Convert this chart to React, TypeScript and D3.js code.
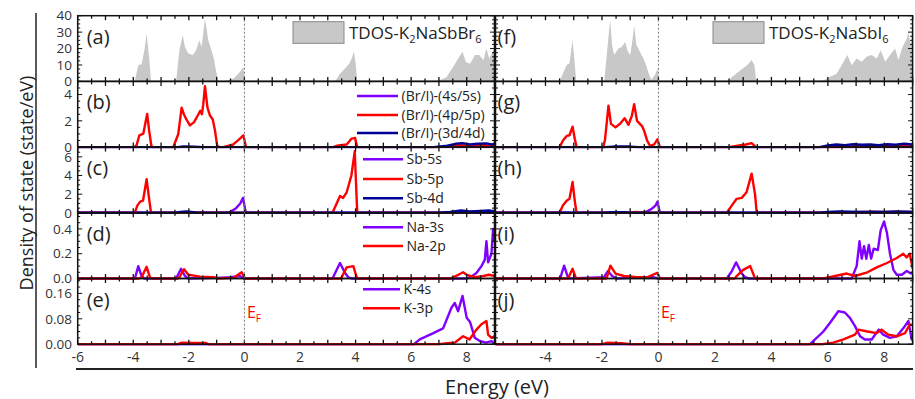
import * as d3 from 'd3';
import React, { useEffect, useRef } from 'react';

type Pt = [number, number];

// ---- data (energy in eV, DOS in state/eV) ----
const tdosBr: Pt[] = [[-6,0],[-3.95,0],[-3.82,9.8],[-3.7,10.4],[-3.6,19],[-3.52,29.2],[-3.42,12.9],[-3.36,0],
  [-2.46,0],[-2.34,19],[-2.22,28.2],[-2.14,21],[-2.02,17],[-1.86,16],[-1.74,19],[-1.62,25],[-1.54,21],[-1.42,38.4],[-1.3,25],[-1.22,20.6],[-1.1,14],[-1.0,4.7],[-0.93,0],
  [-0.76,0],[-0.4,1.6],[-0.16,5.7],[-0.04,8.8],[0.02,0],
  [3.26,0],[3.44,4.7],[3.62,7.8],[3.77,10.8],[3.86,14],[3.94,18],[4.01,10],[4.06,0],
  [6.91,0],[7.27,2.6],[7.51,8.8],[7.69,14],[7.85,18],[7.97,11.8],[8.12,10.8],[8.3,16],[8.45,16],[8.6,12.9],[8.71,20],[8.81,14],[8.9,17],[9,20]];

const tdosI: Pt[] = [[-6,0],[-3.5,0],[-3.38,5],[-3.25,10],[-3.15,11],[-3.04,25],[-2.96,10],[-2.91,0],
  [-1.92,0],[-1.82,18],[-1.71,37.4],[-1.64,22],[-1.57,16],[-1.42,20],[-1.3,21],[-1.18,24],[-1.08,18],[-1.0,16],[-0.92,25],[-0.86,34],[-0.78,22],[-0.71,20],[-0.6,16],[-0.53,14],[-0.42,9],[-0.35,5],[-0.25,1],[-0.12,4],[-0.03,8],[0.02,0],
  [2.45,0],[2.6,2.5],[2.77,5],[3.0,8],[3.15,10],[3.3,13],[3.4,10],[3.46,0],
  [5.3,0],[5.84,0.5],[6.0,2],[6.31,4.7],[6.55,11.8],[6.69,16],[6.84,9.8],[7.02,14],[7.2,12],[7.37,15],[7.55,16],[7.73,14],[7.87,19],[8.03,12],[8.2,16],[8.38,20],[8.5,13],[8.62,20],[8.79,26],[8.85,30],[8.94,22],[9,36]];

const brS: Pt[] = [[-6,0],[9,0]];
const brP: Pt[] = [[-6,0],[-3.95,0],[-3.88,0.15],[-3.78,0.9],[-3.64,1.02],[-3.5,2.52],[-3.43,1.27],[-3.35,0.1],[-3.3,0],
  [-2.56,0],[-2.38,1.0],[-2.26,3.0],[-2.18,2.5],[-2.1,2.15],[-1.96,1.65],[-1.81,1.9],[-1.65,2.52],[-1.59,2.77],[-1.53,2.5],[-1.48,3.27],[-1.42,4.64],[-1.33,3.0],[-1.24,2.4],[-1.14,2.1],[-1.06,1.27],[-0.98,0.1],[-0.9,0],
  [-0.76,0],[-0.4,0.2],[-0.16,0.65],[-0.04,0.9],[0.06,0],
  [3.2,0],[3.32,0.1],[3.68,0.2],[3.86,0.65],[3.98,0.7],[4.06,0],
  [7.0,0],[7.5,0.08],[7.8,0.15],[8.0,0.1],[8.3,0.12],[8.6,0.15],[8.8,0.1],[9,0.12]];
const brD: Pt[] = [[-6,0],[-2.4,0],[-2.2,0.05],[-1.8,0.03],[-1.5,0],[6.8,0],[7.3,0.1],[7.6,0.25],[7.85,0.3],[8.1,0.2],[8.4,0.25],[8.7,0.28],[8.9,0.2],[9,0.25]];

const sbS: Pt[] = [[-6,0],[-4,0],[-3.8,0.05],[-3.6,0],[-0.7,0],[-0.5,0.1],[-0.3,0.5],[-0.15,1.0],[-0.05,1.6],[0.05,0],[9,0]];
const sbP: Pt[] = [[-6,0],[-3.95,0],[-3.85,0.8],[-3.75,1.2],[-3.65,1.3],[-3.52,3.6],[-3.43,1.5],[-3.36,0],[-2.3,0],[-2.1,0.05],[-1.6,0.05],[-1.4,0],
  [3.17,0],[3.44,1.8],[3.55,1.6],[3.68,2.2],[3.85,4.0],[3.97,6.6],[4.06,0],[7.3,0],[7.7,0.08],[8.2,0.1],[8.6,0.12],[9,0.1]];
const sbD: Pt[] = [[-6,0],[-2.5,0],[-2.3,0.1],[-2.1,0.15],[-1.9,0.1],[-1.7,0],[7.0,0],[7.4,0.1],[7.8,0.25],[8.1,0.15],[8.5,0.2],[8.8,0.25],[9,0.15]];

const naS: Pt[] = [[-6,0],[-3.94,0],[-3.82,0.1],[-3.7,0.02],[-3.6,0],[-2.46,0],[-2.28,0.078],[-2.14,0.02],[-2.02,0],[-1.0,0.005],[-0.5,0.01],[-0.16,0.02],[-0.02,0],
  [3.17,0],[3.44,0.125],[3.62,0.045],[3.74,0.01],[3.85,0],[8.0,0],[8.2,0.02],[8.35,0.045],[8.53,0.1],[8.65,0.15],[8.71,0.3],[8.77,0.13],[8.89,0.2],[8.95,0.4],[9,0.3]];
const naP: Pt[] = [[-6,0],[-3.8,0],[-3.7,0.01],[-3.52,0.094],[-3.4,0.01],[-3.3,0],[-2.4,0],[-2.34,0.01],[-2.17,0.075],[-2.02,0.03],[-1.6,0.015],[-1.1,0.01],[-0.95,0],[-0.4,0.005],[-0.1,0.05],[0.02,0],
  [3.45,0],[3.5,0.01],[3.68,0.09],[3.92,0.1],[4.04,0.01],[4.1,0],[7.4,0],[7.7,0.03],[7.87,0.05],[8.0,0.03],[8.3,0.01],[8.6,0.02],[8.8,0.03],[9,0.02]];

const kS: Pt[] = [[-6,0],[6.1,0],[6.31,0.015],[6.8,0.035],[7.15,0.05],[7.45,0.115],[7.57,0.13],[7.69,0.104],[7.85,0.152],[8.0,0.083],[8.12,0.07],[8.29,0.02],[8.47,0.01],[8.7,0.005],[8.89,0.01],[9,0]];
const kP: Pt[] = [[-6,0],[-2.4,0],[-2.25,0.005],[-1.8,0.004],[-1.4,0.004],[-1.3,0],[7.0,0],[7.3,0.003],[7.57,0.005],[7.87,0.025],[8.1,0.015],[8.35,0.046],[8.53,0.063],[8.71,0.073],[8.77,0.03],[8.89,0.02],[9,0.025]];

const iS: Pt[] = [[-6,0],[9,0]];
const iP: Pt[] = [[-6,0],[-3.5,0],[-3.38,0.5],[-3.25,0.85],[-3.15,0.9],[-3.04,1.55],[-2.96,0.6],[-2.9,0],[-1.95,0],[-1.89,0.6],[-1.77,3.15],[-1.68,1.77],[-1.52,1.5],[-1.35,1.8],[-1.2,2.2],[-1.06,1.7],[-0.94,2.4],[-0.86,3.27],[-0.76,2.0],[-0.58,1.6],[-0.5,1.2],[-0.4,0.5],[-0.3,0.1],[-0.15,0.2],[-0.03,0.6],[0.05,0],
  [2.5,0],[2.8,0.1],[3.1,0.2],[3.3,0.3],[3.45,0],[6.3,0],[6.8,0.05],[7.3,0.08],[7.8,0.1],[8.3,0.08],[8.8,0.1],[9,0.12]];
const iD: Pt[] = [[-6,0],[-1.9,0],[-1.6,0.04],[-1.0,0.04],[-0.7,0],[5.7,0],[6.0,0.12],[6.3,0.2],[6.6,0.15],[6.9,0.22],[7.2,0.18],[7.5,0.2],[7.8,0.15],[8.1,0.22],[8.4,0.18],[8.7,0.25],[9,0.2]];

const sbIS: Pt[] = [[-6,0],[-3.5,0],[-3.3,0.03],[-3.1,0],[-0.65,0],[-0.4,0.15],[-0.25,0.4],[-0.1,0.8],[-0.03,1.2],[0.05,0],[9,0]];
const sbIP: Pt[] = [[-6,0],[-3.5,0],[-3.38,0.8],[-3.25,1.3],[-3.15,1.5],[-3.04,3.3],[-2.96,1.2],[-2.9,0],[-1.0,0],[-0.8,0.1],[-0.6,0.05],[-0.5,0],
  [2.42,0],[2.6,0.8],[2.77,1.5],[2.95,1.6],[3.12,2.2],[3.3,4.2],[3.42,2.0],[3.48,0],[6.2,0],[6.6,0.05],[7.2,0.1],[7.8,0.08],[8.4,0.1],[9,0.08]];
const sbID: Pt[] = [[-6,0],[-1.9,0],[-1.7,0.06],[-1.2,0.06],[-1.0,0],[5.7,0],[6.0,0.08],[6.4,0.15],[6.8,0.12],[7.2,0.1],[7.6,0.12],[8.0,0.1],[8.4,0.14],[8.8,0.12],[9,0.1]];

const naIS: Pt[] = [[-6,0],[-3.48,0],[-3.34,0.104],[-3.22,0.02],[-3.15,0],[-1.93,0.01],[-1.79,0.06],[-1.64,0.02],[-1.47,0],[-0.94,0.005],[-0.2,0.01],[0,0],
  [2.42,0],[2.6,0.06],[2.75,0.13],[2.95,0.04],[3.07,0.01],[3.2,0],[6.84,0],[7.02,0.1],[7.12,0.3],[7.2,0.16],[7.28,0.26],[7.36,0.16],[7.45,0.27],[7.53,0.16],[7.62,0.24],[7.77,0.23],[7.87,0.39],[7.99,0.46],[8.09,0.37],[8.2,0.2],[8.32,0.07],[8.44,0.03],[8.62,0.03],[8.79,0.06],[8.94,0.04],[9,0.05]];
const naIP: Pt[] = [[-6,0],[-3.2,0],[-3.16,0.02],[-3.04,0.078],[-2.92,0],[-1.85,0],[-1.81,0.02],[-1.7,0.104],[-1.52,0.04],[-1.22,0.02],[-0.75,0.01],[-0.4,0.01],[-0.04,0.045],[0.06,0],
  [2.7,0],[2.77,0.02],[3.0,0.07],[3.25,0.1],[3.42,0],[5.84,0],[6.67,0.04],[6.96,0.02],[7.4,0.05],[7.73,0.09],[8.09,0.125],[8.44,0.165],[8.67,0.2],[8.79,0.17],[8.9,0.2],[9,0.08]];

const kIS: Pt[] = [[-6,0],[5.37,0],[5.84,0.04],[6.07,0.067],[6.37,0.104],[6.6,0.1],[6.78,0.083],[6.96,0.057],[7.14,0.025],[7.31,0.015],[7.55,0.015],[7.8,0.046],[7.96,0.03],[8.2,0.02],[8.44,0.025],[8.67,0.05],[8.85,0.073],[8.97,0.015],[9,0.02]];
const kIP: Pt[] = [[-6,0],[-2.0,0],[-1.8,0.005],[-1.3,0.003],[-1.0,0],[5.8,0],[6.19,0.005],[6.55,0.015],[6.96,0.03],[7.08,0.046],[7.4,0.04],[7.73,0.035],[7.9,0.046],[8.14,0.03],[8.44,0.025],[8.73,0.035],[8.9,0.062],[9,0.06]];

const panelLetters = [['(a)','(b)','(c)','(d)','(e)'], ['(f)','(g)','(h)','(i)','(j)']];
const xTickLabels = [[-6,-4,-2,0,2,4,6,8], [-4,-2,0,2,4,6,8]];
const yMax = [40, 5, 7.05, 0.53, 0.207];
const yMajor = [10, 2, 2, 0.2, 0.08];
const yFormat = ['d', 'd', 'd', '.1f', '.2f'];
const legendBr = ['(Br/I)-(4s/5s)', '(Br/I)-(4p/5p)', '(Br/I)-(3d/4d)'];
const legendSb = ['Sb-5s', 'Sb-5p', 'Sb-4d'];
const legendNa = ['Na-3s', 'Na-2p'];
const legendK = ['K-4s', 'K-3p'];

const PURPLE = '#7f00ff', RED = '#ff0000', NAVY = '#000099', GRAY = '#c8c8c8';
const FONT = "'Open Sans', sans-serif";

export default function App() {
  const ref = useRef<SVGSVGElement>(null);

  useEffect(() => {
    const svg = d3.select(ref.current);
    svg.selectAll('*').remove();

    const top = 15.7, rowH = 65.7;
    const cols = [
      { x0: 77.7, x1: 494.5, dom: [-6, 9], tdos: tdosBr, tdosName: 'NaSbBr',
        rows: [[brS, brP, brD], [sbS, sbP, sbD], [naS, naP], [kS, kP]] },
      { x0: 495.5, x1: 912.6, dom: [-5.77, 9], tdos: tdosI, tdosName: 'NaSbI',
        rows: [[iS, iP, iD], [sbIS, sbIP, sbID], [naIS, naIP], [kIS, kIP]] },
    ];
    const colors3 = [PURPLE, RED, NAVY];

    cols.forEach((col, ci) => {
      const x = d3.scaleLinear().domain(col.dom).range([col.x0, col.x1]);
      for (let r = 0; r < 5; r++) {
        const y0 = top + r * rowH, y1 = y0 + rowH;
        const y = d3.scaleLinear().domain([0, yMax[r]]).range([y1, y0]);
        const g = svg.append('g');
        const clipId = `clip-${ci}-${r}`;
        svg.append('clipPath').attr('id', clipId).append('rect')
          .attr('x', col.x0).attr('y', y0).attr('width', col.x1 - col.x0).attr('height', rowH + 1.5);
        const plot = g.append('g').attr('clip-path', `url(#${clipId})`);

        if (r === 0) {
          const area = d3.area<Pt>().x(d => x(d[0])).y0(y(0)).y1(d => y(d[1]));
          plot.append('path').attr('d', area(col.tdos)).attr('fill', GRAY).attr('stroke', 'none');
        } else {
          const line = d3.line<Pt>().x(d => x(d[0])).y(d => y(d[1]));
          col.rows[r - 1].forEach((s, si) => {
            plot.append('path').attr('d', line(s)).attr('fill', 'none')
              .attr('stroke', colors3[si]).attr('stroke-width', 2.4).attr('stroke-linejoin', 'round');
          });
        }

        // x ticks top and bottom
        const xt = d3.range(Math.ceil(col.dom[0] * 2) / 2, 9.001, 0.5);
        xt.forEach(v => {
          const len = Math.abs(v - Math.round(v)) < 1e-6 ? 4.5 : 3;
          g.append('line').attr('x1', x(v)).attr('x2', x(v)).attr('y1', y1).attr('y2', y1 - len).attr('stroke', '#111').attr('stroke-width', 1.3);
          g.append('line').attr('x1', x(v)).attr('x2', x(v)).attr('y1', y0).attr('y2', y0 + len).attr('stroke', '#111').attr('stroke-width', 1.3);
        });
        // y ticks left and right
        const minor = yMajor[r] / 4;
        d3.range(0, yMax[r] + 1e-9, minor).forEach((v, i) => {
          const len = i % 4 === 0 ? 4.5 : 2.5;
          g.append('line').attr('x1', col.x0).attr('x2', col.x0 + len).attr('y1', y(v)).attr('y2', y(v)).attr('stroke', '#111').attr('stroke-width', 1);
          g.append('line').attr('x1', col.x1).attr('x2', col.x1 - len).attr('y1', y(v)).attr('y2', y(v)).attr('stroke', '#111').attr('stroke-width', 1);
        });
        if (ci === 0) {
          const f = d3.format(yFormat[r]);
          d3.range(0, yMax[r] + 1e-9, yMajor[r]).forEach(v => {
            g.append('text').attr('x', 72).attr('y', y(v)).attr('dy', '0.35em').attr('text-anchor', 'end')
              .attr('font-family', FONT).attr('font-size', 13.5).attr('fill', '#333').text(f(v));
          });
        }

        g.append('rect').attr('x', col.x0).attr('y', y0).attr('width', col.x1 - col.x0).attr('height', rowH)
          .attr('fill', 'none').attr('stroke', '#111').attr('stroke-width', 1.5);

        g.append('text').attr('x', col.x0 + (ci === 0 ? 9 : 2)).attr('y', y0 + 28)
          .attr('font-family', FONT).attr('font-size', 20).attr('fill', '#222').text(panelLetters[ci][r]);
      }

      // Fermi level
      svg.append('line').attr('x1', x(0)).attr('x2', x(0)).attr('y1', top).attr('y2', top + 5 * rowH)
        .attr('stroke', '#777').attr('stroke-width', 1).attr('stroke-dasharray', '2,2');
      const ef = svg.append('text').attr('x', x(0) + 2.5).attr('y', 318).attr('font-family', FONT)
        .attr('font-size', 16).attr('fill', RED);
      ef.append('tspan').text('E');
      ef.append('tspan').attr('font-size', 10).attr('dy', 4).text('F');

      // x tick labels
      xTickLabels[ci].forEach(v => {
        svg.append('text').attr('x', x(v)).attr('y', 361.5).attr('text-anchor', 'middle')
          .attr('font-family', FONT).attr('font-size', 14).attr('fill', '#333').text(String(v));
      });

      // TDOS legend
      const lx = ci === 0 ? 293 : 713;
      svg.append('rect').attr('x', lx).attr('y', 21.7).attr('width', 51).attr('height', 21.6)
        .attr('fill', GRAY).attr('stroke', '#888').attr('stroke-width', 1);
      const tt = svg.append('text').attr('x', lx + 56).attr('y', 39).attr('font-family', FONT)
        .attr('font-size', 17).attr('fill', '#222');
      tt.append('tspan').text('TDOS-K');
      tt.append('tspan').attr('font-size', 11).attr('dy', 4).text('2');
      tt.append('tspan').attr('dy', -4).text(col.tdosName);
      tt.append('tspan').attr('font-size', 11).attr('dy', 4).text('6');
    });

    // orbital legends (left column)
    const legends = [
      { labels: legendBr, x1: 357, x2: 398, y: [96, 115, 133] },
      { labels: legendSb, x1: 363, x2: 403, y: [159.3, 179, 198.3] },
      { labels: legendNa, x1: 363, x2: 403, y: [227.3, 246] },
      { labels: legendK, x1: 363, x2: 400, y: [289.3, 308.3] },
    ];
    legends.forEach(lg => {
      lg.labels.forEach((lab, i) => {
        svg.append('line').attr('x1', lg.x1).attr('x2', lg.x2).attr('y1', lg.y[i]).attr('y2', lg.y[i])
          .attr('stroke', [PURPLE, RED, NAVY][i]).attr('stroke-width', 2.6);
        svg.append('text').attr('x', lg.x2 + 3.5).attr('y', lg.y[i]).attr('dy', '0.35em')
          .attr('font-family', FONT).attr('font-size', 14).attr('fill', '#222').text(lab);
      });
    });

    // outer axis frame lines and titles
    svg.append('line').attr('x1', 36).attr('x2', 36).attr('y1', 13).attr('y2', 368).attr('stroke', '#222').attr('stroke-width', 1.5);
    svg.append('line').attr('x1', 76).attr('x2', 913).attr('y1', 369).attr('y2', 369).attr('stroke', '#222').attr('stroke-width', 2);
    svg.append('text').attr('transform', 'translate(27,183) rotate(-90)').attr('text-anchor', 'middle').attr('dy', '0.35em')
      .attr('font-family', FONT).attr('font-size', 18).attr('fill', '#222').text('Density of state (state/eV)');
    svg.append('text').attr('x', 497).attr('y', 394).attr('text-anchor', 'middle')
      .attr('font-family', FONT).attr('font-size', 20).attr('fill', '#222').text('Energy (eV)');
  }, []);

  return (
    <svg ref={ref} width={915} height={399} style={{ position: 'absolute', left: 0, top: 0, background: '#fff' }}></svg>
  );
}
